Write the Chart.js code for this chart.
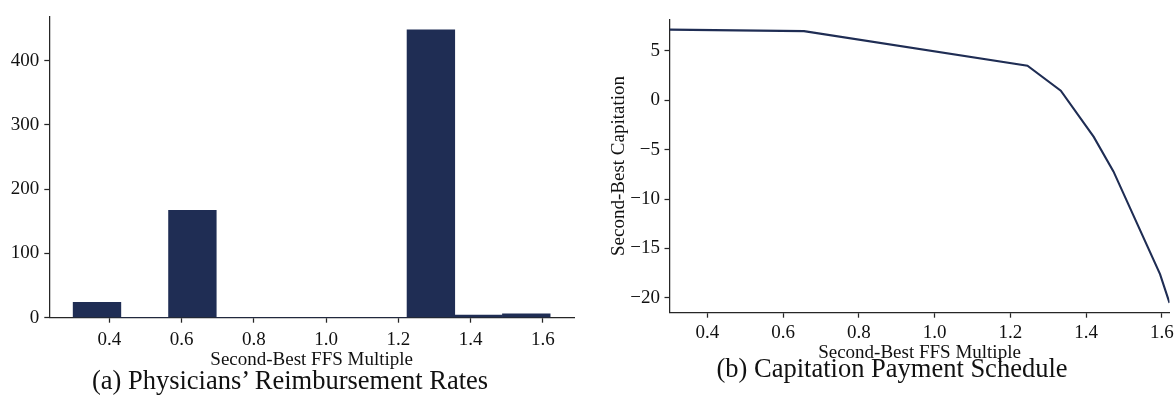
<!DOCTYPE html>
<html>
<head>
<meta charset="utf-8">
<script src="https://cdn.jsdelivr.net/npm/chart.js@4/dist/chart.umd.min.js"></script>
<style>
  html, body { margin: 0; padding: 0; background: #fff; overflow: hidden; width: 1175px; height: 415px; }
  #wrap { position: relative; width: 1175px; height: 415px; overflow: hidden; }
  canvas { position: absolute; top: 0; }
  #histCanvas { left: 0; width: 590px; height: 372px; }
  #capCanvas { left: 590px; width: 620px; height: 372px; }
  .caption {
    position: absolute; white-space: nowrap; color: #111;
    font-family: 'Liberation Serif', 'Times New Roman', serif; font-size: 26.5px;
    transform: translate(-50%, -50%);
  }
</style>
</head>
<body>
<div id="wrap">
  <canvas id="histCanvas" width="590" height="372"></canvas>
  <canvas id="capCanvas" width="620" height="372"></canvas>
  <div class="caption" style="left:290px; top:380px;">(a) Physicians’ Reimbursement Rates</div>
  <div class="caption" style="left:892px; top:368px;">(b) Capitation Payment Schedule</div>
</div>
<script>
// Histogram of second-best FFS multiples: bin edges and the count in each bin
const binEdges = [0.30, 0.432, 0.564, 0.696, 0.828, 0.96, 1.092, 1.224, 1.356, 1.488, 1.62];
const binCounts = [24, 0, 167, 0, 0, 0, 0, 448, 4, 6];
const histXTicks = [0.4, 0.6, 0.8, 1.0, 1.2, 1.4, 1.6];
const histYTicks = [0, 100, 200, 300, 400];

// Second-best capitation payment as a function of the FFS multiple
const capFFS = [0.30, 0.655, 1.245, 1.333, 1.42, 1.472, 1.595, 1.62];
const capPayment = [7.15, 7.0, 3.5, 0.97, -3.7, -7.2, -17.6, -20.5];
const capXTicks = [0.4, 0.6, 0.8, 1.0, 1.2, 1.4, 1.6];
const capYTicks = [-20, -15, -10, -5, 0, 5];

const NAVY = '#1f2d54';
const AXIS = '#262626';
const TEXT = '#111111';
const SERIF = "'Liberation Serif', 'Times New Roman', serif";
const tickFont = { family: SERIF, size: 19 };
const titleFont = { family: SERIF, size: 19 };

// fix the thickness of an axis box so the plot area lands where wanted
function fixedBox(size) {
  return function (scale) {
    if (scale.isHorizontal()) scale.height = size; else scale.width = size;
  };
}
// use an explicit list of tick values
function setTicks(list) {
  return function (scale) { scale.ticks = list.map(v => ({ value: v })); };
}
const minusSign = v => String(v).replace('-', '\u2212');

function axisStyle(extra) {
  return Object.assign({
    offset: false,
    grid: { display: true, offset: false, drawOnChartArea: false, drawTicks: true,
            tickLength: 5, tickColor: AXIS, tickWidth: 1.25 },
    border: { display: true, color: AXIS, width: 1.25 },
  }, extra);
}

const common = {
  responsive: false,
  animation: false,
  devicePixelRatio: 1,
  events: [],
  plugins: { legend: { display: false }, tooltip: { enabled: false } },
};

// (a) histogram
new Chart(document.getElementById('histCanvas'), {
  type: 'bar',
  data: {
    datasets: [{
      data: binCounts.map((c, i) => ({ x: (binEdges[i] + binEdges[i + 1]) / 2, y: c })),
      backgroundColor: NAVY,
      borderWidth: 0,
      barPercentage: 1,
      categoryPercentage: 1,
    }]
  },
  options: Object.assign({}, common, {
    layout: { padding: { left: 0, top: 11.7, right: 16, bottom: 0 } },
    scales: {
      x: axisStyle({
        type: 'linear', min: 0.234, max: 1.686,
        afterBuildTicks: setTicks(histXTicks),
        afterFit: fixedBox(54.3),
        ticks: { font: tickFont, color: TEXT, padding: 6, autoSkip: false, maxRotation: 0,
                 callback: v => v.toFixed(1) },
        title: { display: true, text: 'Second-Best FFS Multiple', font: titleFont, color: TEXT,
                 padding: { top: 0, bottom: 0.8 } },
      }),
      y: axisStyle({
        type: 'linear', min: 0, max: 469,
        afterBuildTicks: setTicks(histYTicks),
        afterFit: fixedBox(49.3),
        ticks: { font: tickFont, color: TEXT, padding: 5, autoSkip: false },
      }),
    }
  })
});

// (b) capitation schedule
new Chart(document.getElementById('capCanvas'), {
  type: 'line',
  data: {
    datasets: [{
      data: capFFS.map((x, i) => ({ x: x, y: capPayment[i] })),
      borderColor: NAVY,
      borderWidth: 2.1,
      pointRadius: 0,
      fill: false,
      tension: 0,
    }]
  },
  options: Object.assign({}, common, {
    layout: { padding: { left: 0, top: 19.3, right: 40.5, bottom: 0 } },
    scales: {
      x: axisStyle({
        type: 'linear', min: 0.30, max: 1.62,
        afterBuildTicks: setTicks(capXTicks),
        afterFit: fixedBox(59.3),
        ticks: { font: tickFont, color: TEXT, padding: 4, autoSkip: false, maxRotation: 0,
                 callback: v => v.toFixed(1) },
        title: { display: true, text: 'Second-Best FFS Multiple', font: titleFont, color: TEXT,
                 padding: { top: 0, bottom: 7.6 } },
      }),
      y: axisStyle({
        type: 'linear', min: -21.5, max: 8.2,
        afterBuildTicks: setTicks(capYTicks),
        afterFit: fixedBox(79.5),
        ticks: { font: tickFont, color: TEXT, padding: 4.5, autoSkip: false, callback: minusSign },
        title: { display: true, text: 'Second-Best Capitation', font: titleFont, color: TEXT,
                 padding: { top: 18, bottom: 0 } },
      }),
    }
  })
});
</script>
</body>
</html>
